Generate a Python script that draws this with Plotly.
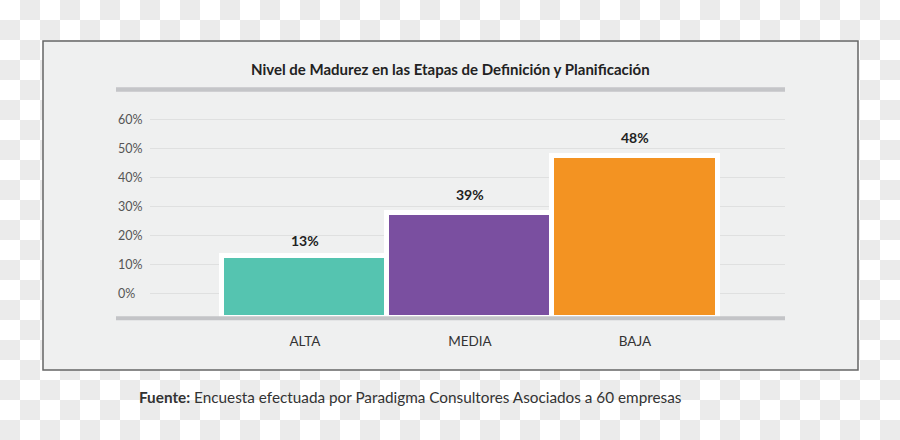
import base64
import plotly.graph_objects as go

# ---- data ----
categories = ["ALTA", "MEDIA", "BAJA"]
bar_values = [13, 28, 47.5]          # bar tops as drawn in the picture (relative to the 0% grid line)
bar_labels = ["13%", "39%", "48%"]   # labels printed above the bars
bar_colors = ["#55c4b0", "#7a4fa0", "#f39322"]
tick_values = [0, 10, 20, 30, 40, 50, 60]
tick_labels = ["0%", "10%", "20%", "30%", "40%", "50%", "60%"]
title_text = "Nivel de Madurez en las Etapas de Definición y Planificación"
source_text = "<b>Fuente:</b> Encuesta efectuada por Paradigma Consultores Asociados a 60 empresas"

# ---- layout geometry (pixels) ----
W, H = 900, 440
L, R, T, B = 150, 115, 100, 122
PW, PH = W - L - R, H - T - B
BASE = -8.25
Y_RANGE = [BASE, 66.67]
X_RANGE = [-0.939, 2.909]
FONT = "Lato"


def px(x):
    return (x - L) / PW


def py(y):
    return (H - B - y) / PH


fig = go.Figure()
fig.add_trace(go.Bar(
    x=categories,
    y=[v - BASE for v in bar_values],
    base=BASE,
    marker=dict(color=bar_colors, line=dict(color="white", width=5)),
    hoverinfo="skip",
))

# value labels
label_shift = [5, 8, 8]
for c, v, t, s in zip(categories, bar_values, bar_labels, label_shift):
    fig.add_annotation(x=c, y=v, xref="x", yref="y", text=f"<b>{t}</b>",
                       showarrow=False, yanchor="bottom", yshift=s,
                       font=dict(family=FONT, size=14, color="#222"))

# y tick labels (left aligned)
for v, t in zip(tick_values, tick_labels):
    fig.add_annotation(x=px(116), y=v, xref="paper", yref="y", text=t,
                       showarrow=False, xanchor="left", yanchor="middle",
                       font=dict(family=FONT, size=12.5, color="#555"))

# checkerboard background image
svg = ("<svg xmlns='http://www.w3.org/2000/svg' width='900' height='440'>"
       "<defs><pattern id='p' width='40' height='40' patternUnits='userSpaceOnUse'>"
       "<rect width='40' height='40' fill='#ffffff'/>"
       "<rect x='20' y='0' width='20' height='20' fill='#ebebeb'/>"
       "<rect x='0' y='20' width='20' height='20' fill='#ebebeb'/>"
       "</pattern></defs><rect width='900' height='440' fill='url(#p)'/></svg>")
src = "data:image/svg+xml;base64," + base64.b64encode(svg.encode()).decode()
fig.add_layout_image(source=src, xref="paper", yref="paper", x=px(0), y=py(0),
                     sizex=W / PW, sizey=H / PH, xanchor="left", yanchor="top",
                     sizing="stretch", layer="below")

# panel
fig.add_shape(type="rect", xref="paper", yref="paper",
              x0=px(43), x1=px(858), y0=py(370), y1=py(41),
              fillcolor="#eff0f0", line=dict(color="#666666", width=1.5), layer="below")
# title underline
fig.add_shape(type="line", xref="paper", yref="paper",
              x0=px(116), x1=px(785), y0=py(89.5), y1=py(89.5),
              line=dict(color="#c4c5c8", width=4.5), layer="below")
# baseline
fig.add_shape(type="line", xref="paper", yref="paper",
              x0=px(116), x1=px(785), y0=py(318.3), y1=py(318.3),
              line=dict(color="#c3c4c7", width=4), layer="above")

# title
fig.add_annotation(x=px(450), y=py(69), xref="paper", yref="paper", text=f"<b>{title_text}</b>",
                   showarrow=False, xanchor="center", yanchor="middle",
                   font=dict(family=FONT, size=15, color="#222"))
# source
fig.add_annotation(x=px(137), y=py(397), xref="paper", yref="paper", text=source_text,
                   showarrow=False, xanchor="left", yanchor="middle",
                   font=dict(family=FONT, size=15.3, color="#333"))

fig.update_layout(
    width=W, height=H,
    margin=dict(l=L, r=R, t=T, b=B, pad=0),
    paper_bgcolor="white",
    plot_bgcolor="rgba(0,0,0,0)",
    showlegend=False,
    bargap=0,
    font=dict(family=FONT),
)
fig.update_xaxes(range=X_RANGE, showgrid=False, zeroline=False, showline=False,
                 ticks="", ticklabelstandoff=13,
                 tickfont=dict(family=FONT, size=13.5, color="#333"))
fig.update_yaxes(range=Y_RANGE, tickvals=tick_values, showticklabels=False,
                 showgrid=True, gridcolor="#dfe0e0", gridwidth=1,
                 zeroline=False, showline=False, ticks="")

fig.write_html("out.html", config={"displayModeBar": False},
               post_script="document.body.style.margin='0';")
